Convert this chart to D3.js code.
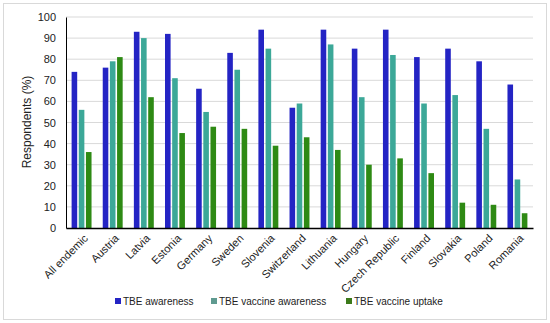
<!DOCTYPE html>
<html><head><meta charset="utf-8">
<script src="https://cdn.jsdelivr.net/npm/d3@7"></script>
<style>body{margin:0;background:#fff}svg{display:block}</style>
</head><body>
<script>
const categories = ["All endemic","Austria","Latvia","Estonia","Germany","Sweden","Slovenia","Switzerland","Lithuania","Hungary","Czech Republic","Finland","Slovakia","Poland","Romania"];
const tbeAwareness = [74,76,93,92,66,83,94,57,94,85,94,81,85,79,68];
const vaccineAwareness = [56,79,90,71,55,75,85,59,87,62,82,59,63,47,23];
const vaccineUptake = [36,81,62,45,48,47,39,43,37,30,33,26,12,11,7];
const seriesNames = ["TBE awareness","TBE vaccine awareness","TBE vaccine uptake"];
const yTicks = [0,10,20,30,40,50,60,70,80,90,100];
const colors = ["#2424c4","#3ca898","#2e8a14"];
const legendColors = ["#2424c4","#5f9a90","#3c7a1a"];
const series = [tbeAwareness, vaccineAwareness, vaccineUptake];

const W=550,H=323;
const svg=d3.select("body").append("svg").attr("width",W).attr("height",H);
svg.append("rect").attr("x",3.5).attr("y",3.5).attr("width",543).attr("height",316).attr("fill","#fff").attr("stroke","#d9d9d9");
const m={l:66,r:533,t:17,b:228};
const x=d3.scaleBand().domain(categories).range([m.l,m.r]).paddingInner(0.36).paddingOuter(0.18);
const xs=d3.scaleBand().domain([0,1,2]).range([0,x.bandwidth()]).paddingInner(0.22);
const y=d3.scaleLinear().domain([0,100]).range([m.b,m.t]);
const font="'Liberation Sans', Arial, sans-serif";

svg.append("g").selectAll("line").data(yTicks.filter(d=>d>0)).join("line")
 .attr("x1",m.l).attr("x2",m.r).attr("y1",d=>y(d)).attr("y2",d=>y(d)).attr("stroke","#d9d9d9");

series.forEach((s,i)=>{
 svg.append("g").selectAll("rect").data(s).join("rect")
  .attr("x",(d,j)=>x(categories[j])+xs(i)).attr("width",xs.bandwidth())
  .attr("y",d=>y(d)).attr("height",d=>y(0)-y(d)).attr("fill",colors[i]);
});

const ya=svg.append("g").attr("transform",`translate(${m.l},0)`).call(d3.axisLeft(y).tickValues(yTicks).tickSize(0).tickPadding(10));
ya.select(".domain").attr("stroke","#000");
ya.selectAll("text").attr("font-family",font).attr("font-size",11).attr("fill","#222");
const xa=svg.append("g").attr("transform",`translate(0,${m.b})`).call(d3.axisBottom(x).tickSize(0).tickPadding(0));
xa.select(".domain").attr("stroke","#000").attr("stroke-width",1.3);
xa.selectAll("text").attr("font-family",font).attr("font-size",11).attr("fill","#222")
 .attr("text-anchor","end").attr("dy",0).attr("transform","translate(7,11) rotate(-45)");

svg.append("text").attr("transform","translate(31,122) rotate(-90)").attr("text-anchor","middle")
 .attr("font-family",font).attr("font-size",12).attr("fill","#222").text("Respondents (%)");

const lx=[115,211,346];
seriesNames.forEach((n,i)=>{
 svg.append("rect").attr("x",lx[i]).attr("y",298).attr("width",6).attr("height",6).attr("fill",legendColors[i]);
 svg.append("text").attr("x",lx[i]+8).attr("y",305).attr("font-family",font).attr("font-size",10).attr("fill","#222").text(n);
});
</script>
</body></html>
